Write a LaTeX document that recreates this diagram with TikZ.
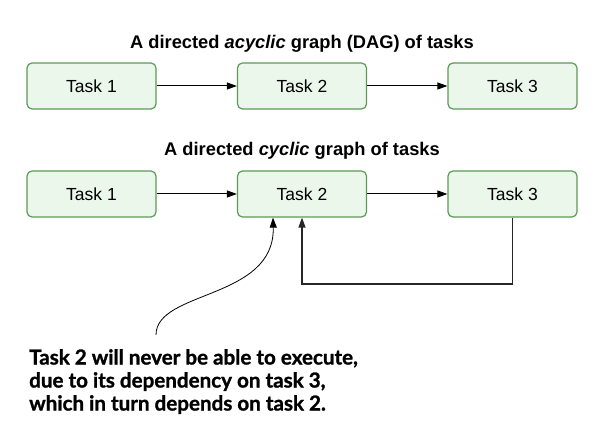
\documentclass[tikz,border=0pt]{standalone}
\usepackage{fontspec}
\setmainfont{Liberation Sans}
\newfontfamily\notefont[BoldFeatures={FakeBold=1.2}]{Lato}
\usetikzlibrary{arrows.meta}
\definecolor{boxfill}{HTML}{ECF7EB}
\definecolor{boxdraw}{HTML}{5C9A57}
\begin{document}
\begin{tikzpicture}[x=1pt,y=-1pt,
  taskbox/.style={draw=boxdraw, fill=boxfill, line width=1.2pt, rounded corners=5pt,
    minimum width=129pt, minimum height=46pt, inner sep=0pt, font=\fontsize{17.5}{20}\selectfont},
  titletext/.style={font=\fontsize{18.3}{20}\selectfont\bfseries, inner sep=0pt},
  link/.style={line width=1pt, -{Triangle[length=10pt,width=7pt]}},
  loopline/.style={line width=1.2pt, draw=black!85, -{Triangle[length=10pt,width=7pt]}},
  thin/.style={line width=0.8pt, -{Triangle[length=10pt,width=7pt]}}]
\useasboundingbox (0,0) rectangle (600,427);
\node[titletext] (t1) at (302,44) {A directed \textit{acyclic} graph (DAG) of tasks};
\node[taskbox] (a1) at (91.5,86) {Task 1};
\node[taskbox] (a2) at (302,86) {Task 2};
\node[taskbox] (a3) at (512.5,86) {Task 3};
\draw[link] (a1) -- (a2);
\draw[link] (a2) -- (a3);
\node[titletext] (t2) at (302,151) {A directed \textit{cyclic} graph of tasks};
\node[taskbox] (b1) at (91.5,194) {Task 1};
\node[taskbox] (b2) at (302,194) {Task 2};
\node[taskbox] (b3) at (512.5,194) {Task 3};
\draw[link] (b1) -- (b2);
\draw[link] (b2) -- (b3);
\coordinate (lp) at (512.5,284);
\coordinate (lq) at (302,284);
\draw[loopline] (b3.south) -- (lp) -- (lq) -- (b2.south);
\node[anchor=north west, inner sep=0pt, align=left,
  font=\notefont\fontsize{20.6}{23}\selectfont\bfseries] (note) at (29,349)
  {Task 2 will never be able to execute,\\due to its dependency on task 3,\\which in turn depends on task 2.};
\coordinate (cs) at (156,335);
\coordinate (ce) at ([xshift=-29pt]b2.south);
\draw[thin] (cs) .. controls (156,290) and (275,300) .. (ce);
\end{tikzpicture}
\end{document}
